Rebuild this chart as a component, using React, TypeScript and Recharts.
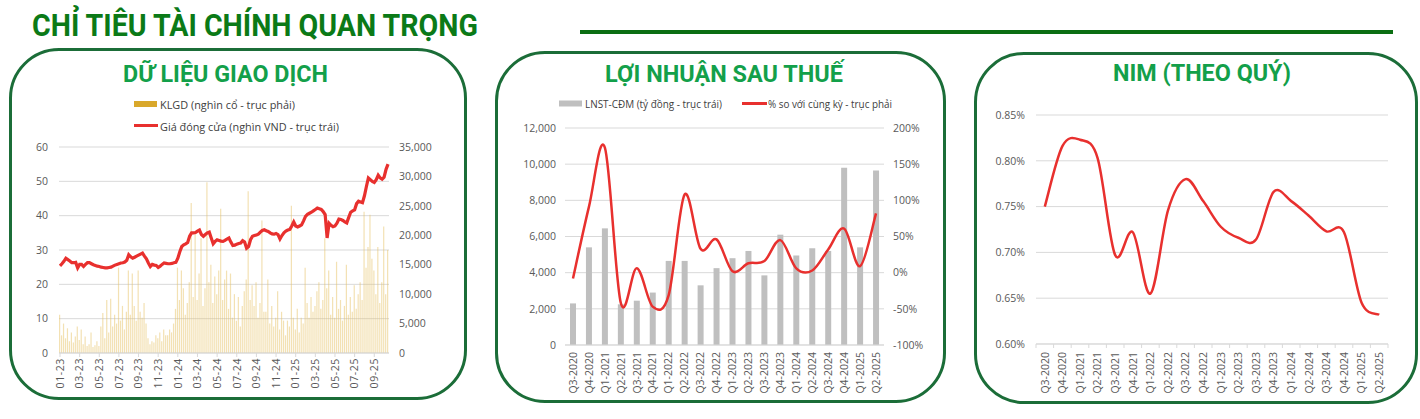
import React from 'react'
import { ComposedChart, Bar, Line, XAxis, YAxis, CartesianGrid } from 'recharts'

// daily trading panel: sampled ~5 sessions per month, last month partial
const months = [
  '01-23', '02-23', '03-23', '04-23', '05-23', '06-23', '07-23', '08-23', '09-23', '10-23', '11-23', '12-23',
  '01-24', '02-24', '03-24', '04-24', '05-24', '06-24', '07-24', '08-24', '09-24', '10-24', '11-24', '12-24',
  '01-25', '02-25', '03-25', '04-25', '05-25', '06-25', '07-25', '08-25', '09-25', '10-25',
]

const closePrice = [
  25.4, 26.0, 26.7, 27.6, 27.2, 26.8, 26.3, 26.3, 26.4, 24.8, 25.8, 25.8, 25.2, 25.8, 26.3,
  26.3, 26.0, 25.7, 25.5, 25.3, 25.2, 25.0, 24.9, 24.8, 24.8, 24.9, 25.0, 25.3, 25.6, 25.8,
  26.0, 26.2, 26.3, 26.5, 27.0, 28.6, 28.0, 27.6, 27.9, 28.2, 28.5, 28.8, 29.1, 28.2, 27.4,
  26.2, 25.2, 25.8, 25.6, 25.5, 24.9, 25.3, 25.8, 26.2, 26.1, 26.0, 26.0, 26.1, 26.3, 26.4,
  27.6, 29.5, 31.0, 31.5, 31.8, 32.2, 34.0, 35.0, 35.0, 35.1, 35.5, 35.8, 34.5, 34.0, 34.5,
  35.0, 35.2, 33.5, 31.8, 32.5, 33.0, 32.8, 32.6, 32.5, 32.8, 33.2, 33.5, 32.3, 31.3, 31.4,
  31.7, 31.9, 32.0, 32.7, 32.3, 30.5, 31.0, 33.0, 34.0, 34.2, 34.4, 34.6, 35.2, 35.7, 35.9,
  35.6, 35.4, 35.0, 34.7, 34.6, 34.8, 34.5, 33.2, 34.2, 35.0, 35.5, 35.8, 36.0, 37.0, 38.2,
  37.0, 36.7, 37.0, 37.3, 38.5, 39.8, 40.4, 40.7, 41.0, 41.4, 41.8, 42.2, 42.0, 41.8, 41.2,
  40.3, 33.5, 37.8, 37.2, 36.8, 37.0, 37.8, 39.0, 38.9, 38.6, 38.2, 37.9, 39.5, 41.0, 41.4,
  41.7, 43.5, 44.2, 44.0, 43.8, 45.8, 48.5, 51.0, 50.5, 50.0, 49.7, 50.5, 51.8, 51.0, 50.6,
  51.2, 53.5, 55.0,
]

const volume = [
  6500, 3000, 5000, 2500, 4200, 2000, 3500, 1800, 2800, 4500, 2200, 4000, 1500, 2800, 1200,
  1500, 3500, 1000, 1300, 2000, 1200, 4500, 6800, 2500, 9000, 3500, 9200, 4500, 6500, 5000,
  14500, 5500, 8000, 4000, 7000, 14000, 6500, 13500, 8000, 5500, 14000, 7000, 6000, 8500, 5000,
  2500, 1500, 2000, 1800, 3000, 2500, 3500, 2000, 4000, 3000, 3000, 4000, 3500, 5000, 7500,
  14500, 9000, 14000, 11000, 6500, 8500, 12000, 25500, 9500, 20500, 9000, 13500, 19500, 8000, 11000,
  29000, 12000, 15000, 8500, 13000, 10000, 14000, 24500, 9000, 12500, 14000, 7500, 13500, 6000, 10000,
  5500, 9500, 4500, 8000, 10500, 12500, 27500, 9000, 11500, 8000, 12000, 6000, 8500, 22500, 7000,
  7000, 12500, 5000, 8000, 4500, 6000, 10500, 4000, 7000, 5500, 3000, 5500, 4500, 25000, 6000,
  4000, 7500, 3500, 6000, 5000, 14500, 8500, 6000, 9500, 7000, 8000, 10500, 12000, 7500, 9000,
  19500, 11000, 14000, 6500, 9500, 6000, 15500, 7500, 9000, 5500, 8000, 15000, 6500, 9500, 7000,
  11500, 7500, 10000, 12000, 9000, 24000, 14500, 18000, 23500, 16000, 14000, 10000, 18000, 8500, 12000,
  21500, 10000, 17500,
]

const quarters = [
  'Q3-2020', 'Q4-2020', 'Q1-2021', 'Q2-2021', 'Q3-2021', 'Q4-2021', 'Q1-2022', 'Q2-2022', 'Q3-2022', 'Q4-2022',
  'Q1-2023', 'Q2-2023', 'Q3-2023', 'Q4-2023', 'Q1-2024', 'Q2-2024', 'Q3-2024', 'Q4-2024', 'Q1-2025', 'Q2-2025',
]
const profit = [2300, 5400, 6450, 2250, 2450, 2900, 4650, 4650, 3300, 4250, 4800, 5200, 3850, 6100, 4950, 5350, 5200, 9800, 5400, 9650]
const profitYoY = [-8, 91, 173, -42, 6, -47, -31, 108, 33, 46, 2, 13, 16, 45, 6, 3, 32, 61, 9, 82]
const nim = [0.75, 0.816, 0.823, 0.803, 0.697, 0.722, 0.655, 0.746, 0.78, 0.756, 0.728, 0.716, 0.714, 0.766, 0.756, 0.74, 0.723, 0.722, 0.645, 0.632]

const priceTicks = [0, 10, 20, 30, 40, 50, 60]
const volumeTicks = [0, 5000, 10000, 15000, 20000, 25000, 30000, 35000]
const profitTicks = [0, 2000, 4000, 6000, 8000, 10000, 12000]
const yoyTicks = [-100, -50, 0, 50, 100, 150, 200]
const nimTicks = [0.6, 0.65, 0.7, 0.75, 0.8, 0.85]

const FONT = "'Open Sans', 'Noto Sans', sans-serif"
const TITLE_FONT = "Roboto, 'Open Sans', sans-serif"
const TICK = '#595959'
const GRID = '#d9d9d9'
const RED = '#e8302e'
const BORDER = '#1b6d38'
const TITLE_GREEN = '#13a04a'

const tradingData = closePrice.map((p, i) => ({ month: months[Math.floor(i / 5)], price: p, volume: volume[i] }))
const profitData = quarters.map((q, i) => ({ q, profit: profit[i], yoy: profitYoY[i] }))
const nimData = quarters.map((q, i) => ({ q, nim: nim[i] }))

// Excel-like smoothed line (Catmull-Rom through every point)
function smoothCurve(context: any) {
  let pts: number[][] = []
  return {
    areaStart() {},
    areaEnd() {},
    lineStart() {
      pts = []
    },
    point(x: number, y: number) {
      pts.push([+x, +y])
    },
    lineEnd() {
      if (!pts.length) return
      context.moveTo(pts[0][0], pts[0][1])
      for (let i = 0; i < pts.length - 1; i++) {
        const p0 = pts[Math.max(i - 1, 0)]
        const p1 = pts[i]
        const p2 = pts[i + 1]
        const p3 = pts[Math.min(i + 2, pts.length - 1)]
        context.bezierCurveTo(
          p1[0] + (p2[0] - p0[0]) / 6,
          p1[1] + (p2[1] - p0[1]) / 6,
          p2[0] - (p3[0] - p1[0]) / 6,
          p2[1] - (p3[1] - p1[1]) / 6,
          p2[0],
          p2[1]
        )
      }
    },
  }
}

const rotatedTick = (gap: number, mark: number, halfBand: number, lastIndex: number, spacing = 0) => (props: any) => {
  const { x, y, payload, index } = props
  const ty = y + gap
  return (
    <g>
      {mark > 0 && <line x1={x - halfBand} x2={x - halfBand} y1={y} y2={y + mark} stroke={GRID} />}
      {mark > 0 && index === lastIndex && <line x1={x + halfBand} x2={x + halfBand} y1={y} y2={y + mark} stroke={GRID} />}
      <text
        x={x}
        y={ty}
        transform={`rotate(-90 ${x} ${ty})`}
        textAnchor="end"
        dy="0.36em"
        fontSize={10.5}
        fontFamily={FONT}
        fill={TICK}
        letterSpacing={spacing}
      >
        {payload.value}
      </text>
    </g>
  )
}

const tickStyle = { fill: TICK, fontSize: 10.5, fontFamily: FONT }

function Panel({ left, top, width, height }: { left: number; top: number; width: number; height: number }) {
  return (
    <div
      style={{
        position: 'absolute',
        left,
        top,
        width,
        height,
        boxSizing: 'border-box',
        border: `3px solid ${BORDER}`,
        borderRadius: 50,
      }}
    />
  )
}

export default function App() {
  return (
    <div style={{ position: 'absolute', left: 0, top: 0, width: 1420, height: 419, background: '#fff', overflow: 'hidden' }}>
      <Panel left={9} top={48} width={458} height={352} />
      <Panel left={495} top={51} width={451} height={352} />
      <Panel left={974} top={52} width={444} height={352} />

      <div style={{ position: 'absolute', left: 10, top: 140 }}>
        <ComposedChart width={456} height={260} data={tradingData} margin={{ top: 7, right: 27, bottom: 2, left: 0 }}>
          <CartesianGrid yAxisId="left" vertical={false} stroke={GRID} />
          <XAxis
            dataKey="month"
            interval={9}
            height={45}
            tickSize={0}
            tickMargin={0}
            stroke={GRID}
            tick={rotatedTick(5, 4, 0, -1, 0.6)}
          />
          <YAxis yAxisId="left" domain={[0, 60]} ticks={priceTicks} width={49} axisLine={false} tickLine={false} tickSize={0} tickMargin={11} tick={tickStyle} />
          <YAxis
            yAxisId="right"
            orientation="right"
            domain={[0, 35000]}
            ticks={volumeTicks}
            width={50}
            axisLine={false}
            tickLine={false}
            tickSize={0}
            tickMargin={10}
            tick={tickStyle}
            tickFormatter={(v: number) => v.toLocaleString('en-US')}
          />
          <Bar yAxisId="right" dataKey="volume" fill="#e8c468" fillOpacity={0.5} barSize={1.2} isAnimationActive={false} />
          <Line yAxisId="left" dataKey="price" stroke={RED} strokeWidth={3.2} dot={false} activeDot={false} isAnimationActive={false} />
        </ComposedChart>
      </div>

      <div style={{ position: 'absolute', left: 497, top: 118 }}>
        <ComposedChart width={447} height={284} data={profitData} margin={{ top: 10, right: 14, bottom: 2, left: 0 }}>
          <CartesianGrid yAxisId="left" vertical={false} stroke={GRID} />
          <XAxis dataKey="q" interval={0} height={55} tickSize={0} tickMargin={0} stroke={GRID} tick={rotatedTick(7, 0, 0, -1)} />
          <YAxis
            yAxisId="left"
            domain={[0, 12000]}
            ticks={profitTicks}
            width={68}
            axisLine={false}
            tickLine={false}
            tickSize={0}
            tickMargin={9}
            tick={tickStyle}
            tickFormatter={(v: number) => v.toLocaleString('en-US')}
          />
          <YAxis
            yAxisId="right"
            orientation="right"
            domain={[-100, 200]}
            ticks={yoyTicks}
            width={46}
            axisLine={false}
            tickLine={false}
            tickSize={0}
            tickMargin={9}
            tick={tickStyle}
            tickFormatter={(v: number) => `${v}%`}
          />
          <Bar yAxisId="left" dataKey="profit" fill="#bfbfbf" barSize={6} isAnimationActive={false} />
          <Line yAxisId="right" dataKey="yoy" type={smoothCurve as any} stroke={RED} strokeWidth={2.5} dot={false} activeDot={false} isAnimationActive={false} />
        </ComposedChart>
      </div>

      <div style={{ position: 'absolute', left: 976, top: 105 }}>
        <ComposedChart width={440} height={297} data={nimData} margin={{ top: 10, right: 28, bottom: 2, left: 0 }}>
          <CartesianGrid vertical={false} stroke={GRID} />
          <XAxis dataKey="q" scale="band" interval={0} height={56} tickSize={0} tickMargin={0} stroke={GRID} tick={rotatedTick(8, 4, 8.8, 19)} />
          <YAxis
            domain={[0.6, 0.85]}
            ticks={nimTicks}
            width={60}
            axisLine={false}
            tickLine={false}
            tickSize={0}
            tickMargin={11}
            tick={tickStyle}
            tickFormatter={(v: number) => `${v.toFixed(2)}%`}
          />
          <Line dataKey="nim" type={smoothCurve as any} stroke={RED} strokeWidth={2.5} dot={false} activeDot={false} isAnimationActive={false} />
        </ComposedChart>
      </div>

      <svg width={1420} height={419} style={{ position: 'absolute', left: 0, top: 0, pointerEvents: 'none' }}>
        <text x={32} y={36} fontFamily={TITLE_FONT} fontWeight={700} fontSize={32} fill="#0b7a17" textLength={446} lengthAdjust="spacingAndGlyphs">
          CHỈ TIÊU TÀI CHÍNH QUAN TRỌNG
        </text>
        <rect x={580} y={30} width={813} height={4} fill="#0b6e12" />

        <text x={123} y={82} fontFamily={TITLE_FONT} fontWeight={700} fontSize={23} fill={TITLE_GREEN} textLength={205} lengthAdjust="spacingAndGlyphs">
          DỮ LIỆU GIAO DỊCH
        </text>
        <text x={605} y={82} fontFamily={TITLE_FONT} fontWeight={700} fontSize={23} fill={TITLE_GREEN} textLength={238} lengthAdjust="spacingAndGlyphs">
          LỢI NHUẬN SAU THUẾ
        </text>
        <text x={1113} y={81} fontFamily={TITLE_FONT} fontWeight={700} fontSize={23} fill={TITLE_GREEN} textLength={178} lengthAdjust="spacingAndGlyphs">
          NIM (THEO QUÝ)
        </text>

        <g fontFamily={FONT} fontSize={11} fill="#404040">
          <rect x={134} y={101} width={23} height={6} fill="#d9a82b" />
          <text x={160} y={104} dominantBaseline="central" textLength={135} lengthAdjust="spacingAndGlyphs">
            KLGD (nghìn cổ - trục phải)
          </text>
          <rect x={134} y={124} width={24} height={3} fill={RED} />
          <text x={160} y={126} dominantBaseline="central" textLength={179} lengthAdjust="spacingAndGlyphs">
            Giá đóng cửa (nghìn VND - trục trái)
          </text>

          <rect x={559} y={100.5} width={23} height={6} fill="#bfbfbf" />
          <text x={585} y={103.5} dominantBaseline="central" textLength={137} lengthAdjust="spacingAndGlyphs">
            LNST-CĐM (tỷ đồng - trục trái)
          </text>
          <rect x={742} y={102} width={25} height={3} fill={RED} />
          <text x={768} y={103.5} dominantBaseline="central" textLength={124} lengthAdjust="spacingAndGlyphs">
            % so với cùng kỳ - trục phải
          </text>
        </g>
      </svg>
    </div>
  )
}
